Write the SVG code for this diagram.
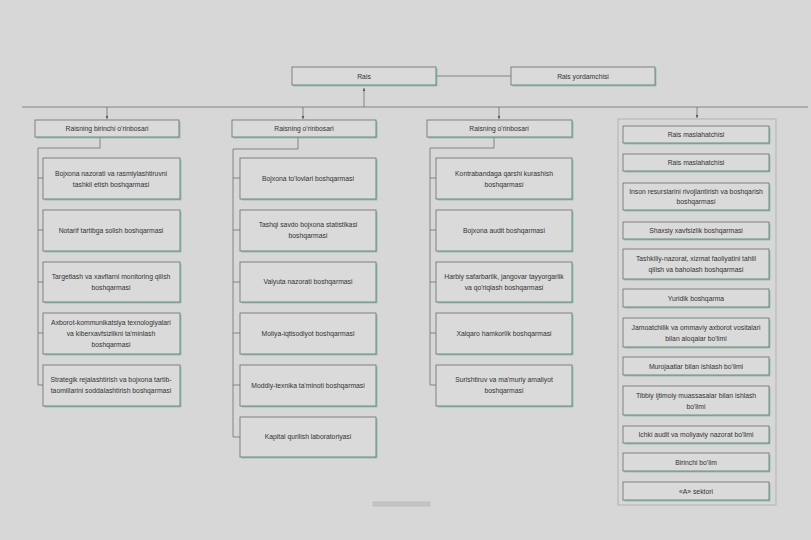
<svg xmlns="http://www.w3.org/2000/svg" width="811" height="540" viewBox="0 0 811 540">
<defs>
<style>
.bg{fill:#d7d7d7}
.sh{fill:#74c3a0;opacity:0.75}
.bx{fill:#dadada;stroke:#6b6b6b;stroke-width:0.8}
.t{font-family:"Liberation Sans",Arial,sans-serif;font-size:6.8px;fill:#333;text-anchor:middle}
.ln{fill:none;stroke:#6e6e6e;stroke-width:0.8}
.fr{fill:none;stroke:#a8a8a8;stroke-width:0.8}
</style>
<marker id="ah" viewBox="0 0 6 6" refX="5" refY="3" markerWidth="5" markerHeight="5" orient="auto">
<path d="M0,0.8 L5,3 L0,5.2 z" fill="#555"/>
</marker>
</defs>
<rect class="bg" x="0" y="0" width="811" height="540"/>

<g id="connectors">
<path class="ln" d="M436,76 H511"/>
<path class="ln" d="M22,107 H808"/>
<path class="ln" d="M364,107 V88" marker-end="url(#ah)"/>
<path class="ln" d="M107,107 V119" marker-end="url(#ah)"/>
<path class="ln" d="M303,107 V119" marker-end="url(#ah)"/>
<path class="ln" d="M499,107 V119" marker-end="url(#ah)"/>
<path class="ln" d="M697,107 V118" marker-end="url(#ah)"/>
<path class="ln" d="M100,137 V148 H38 V385 M38,178 H43 M38,230 H43 M38,282 H43 M38,333 H43 M38,385 H43"/>
<path class="ln" d="M298,137 V149 H233 V437 M233,178 H240 M233,230 H240 M233,282 H240 M233,333 H240 M233,385 H240 M233,437 H240"/>
<path class="ln" d="M494,137 V148 H430 V385 M430,178 H436 M430,230 H436 M430,282 H436 M430,333 H436 M430,385 H436"/>
</g>

<g id="rais"><rect class="sh" x="293.5" y="68.5" width="144" height="18"/><rect class="bx" x="292" y="67" width="144" height="18"/><text class="t" x="364" y="78.5">Rais</text></g>
<g id="rais-yordamchisi"><rect class="sh" x="512.5" y="68.5" width="144" height="18"/><rect class="bx" x="511" y="67" width="144" height="18"/><text class="t" x="583" y="78.5">Rais yordamchisi</text></g>

<g id="h1"><rect class="sh" x="36.5" y="121.5" width="144" height="17"/><rect class="bx" x="35" y="120" width="144" height="17"/><text class="t" x="107" y="131">Raisning birinchi o'rinbosari</text></g>
<g id="h2"><rect class="sh" x="233.5" y="121.5" width="144" height="17"/><rect class="bx" x="232" y="120" width="144" height="17"/><text class="t" x="304" y="131">Raisning o'rinbosari</text></g>
<g id="h3"><rect class="sh" x="428.5" y="121.5" width="145" height="17"/><rect class="bx" x="427" y="120" width="145" height="17"/><text class="t" x="499" y="131">Raisning o'rinbosari</text></g>

<g id="c1-1"><rect class="sh" x="44.5" y="159.5" width="137" height="41"/><rect class="bx" x="43" y="158" width="137" height="41"/><text class="t" x="111" y="175.5">Bojxona nazorati va rasmiylashtiruvni</text><text class="t" x="111" y="186.5">tashkil etish boshqarmasi</text></g>
<g id="c1-2"><rect class="sh" x="44.5" y="211.5" width="137" height="41"/><rect class="bx" x="43" y="210" width="137" height="41"/><text class="t" x="111" y="232.5">Notarif tartibga solish boshqarmasi</text></g>
<g id="c1-3"><rect class="sh" x="44.5" y="263.5" width="137" height="40"/><rect class="bx" x="43" y="262" width="137" height="40"/><text class="t" x="111" y="278.5">Targetlash va xavflarni monitoring qilish</text><text class="t" x="111" y="289.5">boshqarmasi</text></g>
<g id="c1-4"><rect class="sh" x="44.5" y="314.5" width="137" height="41"/><rect class="bx" x="43" y="313" width="137" height="41"/><text class="t" x="111" y="324.5">Axborot-kommunikatsiya texnologiyalari</text><text class="t" x="111" y="335.5">va kiberxavfsizlikni ta'minlash</text><text class="t" x="111" y="346.5">boshqarmasi</text></g>
<g id="c1-5"><rect class="sh" x="44.5" y="366.5" width="137" height="41"/><rect class="bx" x="43" y="365" width="137" height="41"/><text class="t" x="111" y="382">Strategik rejalashtirish va bojxona tartib-</text><text class="t" x="111" y="393">taomillarini soddalashtirish boshqarmasi</text></g>

<g id="c2-1"><rect class="sh" x="241.5" y="159.5" width="136" height="41"/><rect class="bx" x="240" y="158" width="136" height="41"/><text class="t" x="308" y="181">Bojxona to'lovlari boshqarmasi</text></g>
<g id="c2-2"><rect class="sh" x="241.5" y="211.5" width="136" height="41"/><rect class="bx" x="240" y="210" width="136" height="41"/><text class="t" x="308" y="226.5">Tashqi savdo bojxona statistikasi</text><text class="t" x="308" y="237.5">boshqarmasi</text></g>
<g id="c2-3"><rect class="sh" x="241.5" y="263.5" width="136" height="40"/><rect class="bx" x="240" y="262" width="136" height="40"/><text class="t" x="308" y="284">Valyuta nazorati boshqarmasi</text></g>
<g id="c2-4"><rect class="sh" x="241.5" y="314.5" width="136" height="41"/><rect class="bx" x="240" y="313" width="136" height="41"/><text class="t" x="308" y="335.5">Moliya-iqtisodiyot boshqarmasi</text></g>
<g id="c2-5"><rect class="sh" x="241.5" y="366.5" width="136" height="41"/><rect class="bx" x="240" y="365" width="136" height="41"/><text class="t" x="308" y="387.5">Moddiy-texnika ta'minoti boshqarmasi</text></g>
<g id="c2-6"><rect class="sh" x="241.5" y="418.5" width="136" height="40"/><rect class="bx" x="240" y="417" width="136" height="40"/><text class="t" x="308" y="439">Kapital qurilish laboratoriyasi</text></g>

<g id="c3-1"><rect class="sh" x="437.5" y="159.5" width="136" height="41"/><rect class="bx" x="436" y="158" width="136" height="41"/><text class="t" x="504" y="175.5">Kontrabandaga qarshi kurashish</text><text class="t" x="504" y="186.5">boshqarmasi</text></g>
<g id="c3-2"><rect class="sh" x="437.5" y="211.5" width="136" height="41"/><rect class="bx" x="436" y="210" width="136" height="41"/><text class="t" x="504" y="232.5">Bojxona audit boshqarmasi</text></g>
<g id="c3-3"><rect class="sh" x="437.5" y="263.5" width="136" height="40"/><rect class="bx" x="436" y="262" width="136" height="40"/><text class="t" x="504" y="278.5">Harbiy safarbarlik, jangovar tayyorgarlik</text><text class="t" x="504" y="289.5">va qo'riqlash boshqarmasi</text></g>
<g id="c3-4"><rect class="sh" x="437.5" y="314.5" width="136" height="41"/><rect class="bx" x="436" y="313" width="136" height="41"/><text class="t" x="504" y="335.5">Xalqaro hamkorlik boshqarmasi</text></g>
<g id="c3-5"><rect class="sh" x="437.5" y="366.5" width="136" height="41"/><rect class="bx" x="436" y="365" width="136" height="41"/><text class="t" x="504" y="382">Surishtiruv va ma'muriy amaliyot</text><text class="t" x="504" y="393">boshqarmasi</text></g>

<g id="col4-frame"><rect class="fr" x="618" y="119" width="158" height="386"/></g>
<g id="c4-1"><rect class="sh" x="624.5" y="127.5" width="146" height="17"/><rect class="bx" x="623" y="126" width="146" height="17"/><text class="t" x="696" y="137">Rais maslahatchisi</text></g>
<g id="c4-2"><rect class="sh" x="624.5" y="155.5" width="146" height="17"/><rect class="bx" x="623" y="154" width="146" height="17"/><text class="t" x="696" y="165">Rais maslahatchisi</text></g>
<g id="c4-3"><rect class="sh" x="624.5" y="184.5" width="146" height="27"/><rect class="bx" x="623" y="183" width="146" height="27"/><text class="t" x="696" y="194">Inson resurslarini rivojlantirish va boshqarish</text><text class="t" x="696" y="204">boshqarmasi</text></g>
<g id="c4-4"><rect class="sh" x="624.5" y="223.5" width="146" height="17"/><rect class="bx" x="623" y="222" width="146" height="17"/><text class="t" x="696" y="233">Shaxsiy xavfsizlik boshqarmasi</text></g>
<g id="c4-5"><rect class="sh" x="624.5" y="250.5" width="146" height="30"/><rect class="bx" x="623" y="249" width="146" height="30"/><text class="t" x="696" y="261">Tashkiliy-nazorat, xizmat faoliyatini tahlil</text><text class="t" x="696" y="272">qilish va baholash boshqarmasi</text></g>
<g id="c4-6"><rect class="sh" x="624.5" y="290.5" width="146" height="18"/><rect class="bx" x="623" y="289" width="146" height="18"/><text class="t" x="696" y="300.5">Yuridik boshqarma</text></g>
<g id="c4-7"><rect class="sh" x="624.5" y="319.5" width="146" height="29"/><rect class="bx" x="623" y="318" width="146" height="29"/><text class="t" x="696" y="329.5">Jamoatchilik va ommaviy axborot vositalari</text><text class="t" x="696" y="340.5">bilan aloqalar bo'limi</text></g>
<g id="c4-8"><rect class="sh" x="624.5" y="358.5" width="146" height="18"/><rect class="bx" x="623" y="357" width="146" height="18"/><text class="t" x="696" y="368.5">Murojaatlar bilan ishlash bo'limi</text></g>
<g id="c4-9"><rect class="sh" x="624.5" y="387.5" width="146" height="29"/><rect class="bx" x="623" y="386" width="146" height="29"/><text class="t" x="696" y="397.5">Tibbiy ijtimoiy muassasalar bilan ishlash</text><text class="t" x="696" y="408.5">bo'limi</text></g>
<g id="c4-10"><rect class="sh" x="624.5" y="427.5" width="146" height="17"/><rect class="bx" x="623" y="426" width="146" height="17"/><text class="t" x="696" y="437">Ichki audit va moliyaviy nazorat bo'limi</text></g>
<g id="c4-11"><rect class="sh" x="624.5" y="454.5" width="146" height="18"/><rect class="bx" x="623" y="453" width="146" height="18"/><text class="t" x="696" y="464.5">Birinchi bo'lim</text></g>
<g id="c4-12"><rect class="sh" x="624.5" y="483.5" width="146" height="18"/><rect class="bx" x="623" y="482" width="146" height="18"/><text class="t" x="696" y="493.5">«A» sektori</text></g>

<rect x="373" y="502" width="57" height="4" fill="#c4c4c4" stroke="#b0b0b0" stroke-width="0.5"/>
</svg>
